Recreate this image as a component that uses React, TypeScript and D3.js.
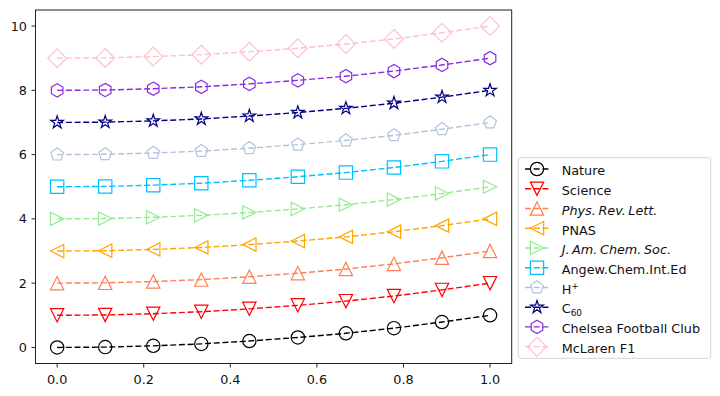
import * as d3 from "d3";

// x positions shared by every series
const xValues = [0, 0.111, 0.222, 0.333, 0.444, 0.556, 0.667, 0.778, 0.889, 1.0];

const nature = [0, 0.01, 0.05, 0.11, 0.2, 0.31, 0.44, 0.6, 0.79, 1.0];
const science = [1, 1.01, 1.05, 1.11, 1.2, 1.31, 1.44, 1.6, 1.79, 2.0];
const prl = [2, 2.01, 2.05, 2.11, 2.2, 2.31, 2.44, 2.6, 2.79, 3.0];
const pnas = [3, 3.01, 3.05, 3.11, 3.2, 3.31, 3.44, 3.6, 3.79, 4.0];
const jacs = [4, 4.01, 4.05, 4.11, 4.2, 4.31, 4.44, 4.6, 4.79, 5.0];
const angew = [5, 5.01, 5.05, 5.11, 5.2, 5.31, 5.44, 5.6, 5.79, 6.0];
const hplus = [6, 6.01, 6.05, 6.11, 6.2, 6.31, 6.44, 6.6, 6.79, 7.0];
const c60 = [7, 7.01, 7.05, 7.11, 7.2, 7.31, 7.44, 7.6, 7.79, 8.0];
const chelsea = [8, 8.01, 8.05, 8.11, 8.2, 8.31, 8.44, 8.6, 8.79, 9.0];
const mclaren = [9, 9.01, 9.05, 9.11, 9.2, 9.31, 9.44, 9.6, 9.79, 10.0];

const xTicks = [0, 0.2, 0.4, 0.6, 0.8, 1.0];
const yTicks = [0, 2, 4, 6, 8, 10];

type Marker = "o" | "v" | "^" | "<" | ">" | "s" | "p" | "*" | "h" | "D";

interface Series {
  key: string;
  label: React.ReactNode;
  values: number[];
  color: string;
  marker: Marker;
}

const series: Series[] = [
  { key: "nature", label: "Nature", values: nature, color: "#000000", marker: "o" },
  { key: "science", label: "Science", values: science, color: "#ff0000", marker: "v" },
  {
    key: "prl",
    label: <tspan fontStyle="italic">Phys.{"\u2009"}Rev.{"\u2009"}Lett.</tspan>,
    values: prl,
    color: "#ff7f50",
    marker: "^",
  },
  { key: "pnas", label: "PNAS", values: pnas, color: "#ffa500", marker: "<" },
  {
    key: "jacs",
    label: <tspan fontStyle="italic">J.{"\u2009"}Am.{"\u2009"}Chem.{"\u2009"}Soc.</tspan>,
    values: jacs,
    color: "#90ee90",
    marker: ">",
  },
  { key: "angew", label: "Angew.Chem.Int.Ed", values: angew, color: "#00bfff", marker: "s" },
  {
    key: "hplus",
    label: (
      <>
        H<tspan fontSize={9} dy={-5}>+</tspan>
      </>
    ),
    values: hplus,
    color: "#b0c4de",
    marker: "p",
  },
  {
    key: "c60",
    label: (
      <>
        C<tspan fontSize={9} dy={3}>60</tspan>
      </>
    ),
    values: c60,
    color: "#000080",
    marker: "*",
  },
  { key: "chelsea", label: "Chelsea Football Club", values: chelsea, color: "#8a2be2", marker: "h" },
  { key: "mclaren", label: "McLaren F1", values: mclaren, color: "#ffc0cb", marker: "D" },
];

const width = 720;
const height = 396;
const plot = { left: 35.5, right: 511.7, top: 10, bottom: 363.5 };
const ms = 13.3; // marker size in px
const fontSize = 12.8;
const fontFamily = "DejaVu Sans, sans-serif";

function polygon(n: number, r: number, startDeg: number) {
  const pts: string[] = [];
  for (let i = 0; i < n; i++) {
    const a = ((startDeg + (360 / n) * i) * Math.PI) / 180;
    pts.push(`${r * Math.cos(a)},${r * Math.sin(a)}`);
  }
  return "M" + pts.join("L") + "Z";
}

function star(r: number) {
  const inner = r * 0.381966;
  const pts: string[] = [];
  for (let i = 0; i < 10; i++) {
    const rr = i % 2 === 0 ? r : inner;
    const a = ((-90 + 36 * i) * Math.PI) / 180;
    pts.push(`${rr * Math.cos(a)},${rr * Math.sin(a)}`);
  }
  return "M" + pts.join("L") + "Z";
}

function markerPath(m: Marker) {
  const r = ms / 2;
  switch (m) {
    case "o":
      return `M${r},0A${r},${r} 0 1,1 ${-r},0A${r},${r} 0 1,1 ${r},0Z`;
    case "v":
      return `M0,${r}L${-r},${-r}L${r},${-r}Z`;
    case "^":
      return `M0,${-r}L${-r},${r}L${r},${r}Z`;
    case "<":
      return `M${-r},0L${r},${-r}L${r},${r}Z`;
    case ">":
      return `M${r},0L${-r},${-r}L${-r},${r}Z`;
    case "s":
      return `M${-r},${-r}H${r}V${r}H${-r}Z`;
    case "p":
      return polygon(5, r, -90);
    case "*":
      return star(r);
    case "h":
      return polygon(6, r, -90);
    case "D": {
      const d = r * Math.SQRT2;
      return `M0,${-d}L${d},0L0,${d}L${-d},0Z`;
    }
  }
}

export default function App() {
  const x = d3.scaleLinear().domain([-0.05, 1.05]).range([plot.left, plot.right]);
  const y = d3.scaleLinear().domain([-0.5, 10.5]).range([plot.bottom, plot.top]);

  const line = d3
    .line<number>()
    .x((_, i) => x(xValues[i]))
    .y((d) => y(d));

  const legend = { x: 518.3, y: 157.7, w: 192.5, h: 200.6 };
  const rowY0 = 169;
  const rowStep = 19.74;

  return (
    <svg
      width={width}
      height={height}
      style={{ position: "absolute", left: 0, top: 0, background: "#fff" }}
      fontFamily={fontFamily}
    >
      <rect width={width} height={height} fill="#fff" />

      {series.map((s) => (
        <g key={s.key}>
          <path
            d={line(s.values) || ""}
            fill="none"
            stroke={s.color}
            strokeWidth={1.4}
            strokeDasharray="6,2.7"
          />
          {s.values.map((v, i) => (
            <path
              key={i}
              d={markerPath(s.marker)}
              transform={`translate(${x(xValues[i])},${y(v)})`}
              fill="none"
              stroke={s.color}
              strokeWidth={1.2}
              strokeLinejoin="miter"
            />
          ))}
        </g>
      ))}

      {/* frame */}
      <rect
        x={plot.left}
        y={plot.top}
        width={plot.right - plot.left}
        height={plot.bottom - plot.top}
        fill="none"
        stroke="#222"
        strokeWidth={1}
      />

      {/* x axis */}
      {xTicks.map((t) => (
        <g key={t} transform={`translate(${x(t)},${plot.bottom})`}>
          <line y2={4} stroke="#222" strokeWidth={1} />
          <text y={20.5} textAnchor="middle" fontSize={fontSize} fill="#111">
            {t.toFixed(1)}
          </text>
        </g>
      ))}

      {/* y axis */}
      {yTicks.map((t) => (
        <g key={t} transform={`translate(${plot.left},${y(t)})`}>
          <line x2={-4} stroke="#222" strokeWidth={1} />
          <text x={-8.5} dy="0.36em" textAnchor="end" fontSize={fontSize} fill="#111">
            {t}
          </text>
        </g>
      ))}

      {/* legend */}
      <rect
        x={legend.x}
        y={legend.y}
        width={legend.w}
        height={legend.h}
        rx={2.5}
        fill="#fff"
        fillOpacity={0.8}
        stroke="#d5d5d5"
        strokeWidth={1}
      />
      {series.map((s, i) => {
        const cy = rowY0 + rowStep * i;
        return (
          <g key={s.key}>
            <line
              x1={524}
              x2={550}
              y1={cy}
              y2={cy}
              stroke={s.color}
              strokeWidth={1.4}
              strokeDasharray="6,2.7"
              strokeDashoffset={-1}
            />
            <path
              d={markerPath(s.marker)}
              transform={`translate(537,${cy})`}
              fill="none"
              stroke={s.color}
              strokeWidth={1.2}
            />
            <text x={561.7} y={cy + 6.3} fontSize={fontSize} fill="#111">
              {s.label}
            </text>
          </g>
        );
      })}
    </svg>
  );
}
